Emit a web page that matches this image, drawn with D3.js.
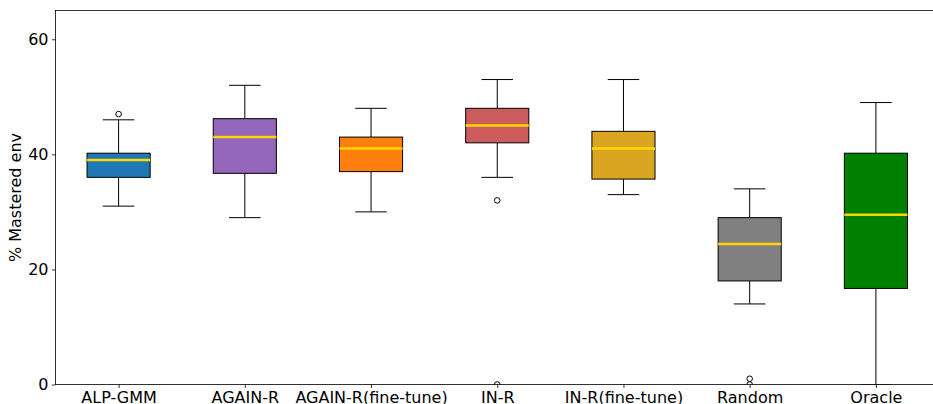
<!DOCTYPE html>
<html><head><meta charset="utf-8">
<script src="https://cdn.jsdelivr.net/npm/d3@7/dist/d3.min.js"></script>
<style>html,body{margin:0;padding:0;background:#fff;overflow:hidden;}svg{display:block;font-family:"DejaVu Sans",sans-serif;}</style>
</head><body><svg id="c" width="933" height="404"></svg>
<script>
const categories = ["ALP-GMM","AGAIN-R","AGAIN-R(fine-tune)","IN-R","IN-R(fine-tune)","Random","Oracle"];
const colors = ["#1f77b4","#9467bd","#ff7f0e","#cd5c5c","#daa520","#808080","#008000"];
const whiskerLow  = [31, 29, 30, 36, 33, 14, 0];
const q1          = [36, 36.7, 37, 42, 35.7, 18, 16.7];
const medians     = [39, 43, 41, 45, 41, 24.4, 29.5];
const q3          = [40.2, 46.2, 43, 48, 44, 29, 40.2];
const whiskerHigh = [46, 52, 48, 53, 53, 34, 49];
const outliers    = [[47], [], [], [32, 0], [], [1, 0], []];
const yTicks = [0, 20, 40, 60];

const svg = d3.select("#c");
const m = {l:55.5, r:939, t:10.5, b:384.5};
const x = d3.scaleLinear().domain([0.5, 7.5]).range([m.l, m.r]);
const y = d3.scaleLinear().domain([0, 65]).range([m.b, m.t]);
const boxW = x(1.25) - x(1);
const capW = x(1.125) - x(1);

svg.append("defs").append("clipPath").attr("id", "clip").append("rect")
  .attr("x", m.l).attr("y", m.t).attr("width", m.r - m.l).attr("height", m.b - m.t);

const g = svg.append("g").attr("clip-path", "url(#clip)");
categories.forEach((c, i) => {
  const cx = x(i + 1);
  const gg = g.append("g");
  gg.append("line").attr("x1", cx).attr("x2", cx).attr("y1", y(q3[i])).attr("y2", y(whiskerHigh[i])).attr("stroke", "#000").attr("stroke-width", 1);
  gg.append("line").attr("x1", cx).attr("x2", cx).attr("y1", y(q1[i])).attr("y2", y(whiskerLow[i])).attr("stroke", "#000").attr("stroke-width", 1);
  [whiskerHigh[i], whiskerLow[i]].forEach(v => {
    gg.append("line").attr("x1", cx - capW).attr("x2", cx + capW).attr("y1", y(v)).attr("y2", y(v)).attr("stroke", "#000").attr("stroke-width", 1);
  });
  gg.append("rect").attr("x", cx - boxW).attr("width", 2 * boxW)
    .attr("y", y(q3[i])).attr("height", y(q1[i]) - y(q3[i]))
    .attr("fill", colors[i]).attr("stroke", "#000").attr("stroke-width", 1);
  gg.append("line").attr("x1", cx - boxW).attr("x2", cx + boxW).attr("y1", y(medians[i])).attr("y2", y(medians[i])).attr("stroke", "#ffd700").attr("stroke-width", 2.5);
  outliers[i].forEach(v => {
    gg.append("circle").attr("cx", cx).attr("cy", y(v)).attr("r", 2.8).attr("fill", "none").attr("stroke", "#000").attr("stroke-width", 1);
  });
});

const xAxis = d3.axisBottom(x).tickValues(d3.range(1, 8)).tickFormat(d => categories[d - 1]).tickSize(3.5).tickPadding(3.5);
const gx = svg.append("g").attr("transform", `translate(0,${m.b})`).call(xAxis);
gx.select(".domain").remove();
gx.selectAll("text").attr("font-size", 16).attr("fill", "#000").attr("font-family", "DejaVu Sans");
gx.selectAll("line").attr("stroke", "#000").attr("stroke-width", 0.8);

const yAxis = d3.axisLeft(y).tickValues(yTicks).tickSize(3.5).tickPadding(3.5);
const gy = svg.append("g").attr("transform", `translate(${m.l},0)`).call(yAxis);
gy.select(".domain").remove();
gy.selectAll("text").attr("font-size", 16).attr("fill", "#000").attr("font-family", "DejaVu Sans");
gy.selectAll("line").attr("stroke", "#000").attr("stroke-width", 0.8);

svg.append("rect").attr("x", m.l).attr("y", m.t).attr("width", m.r - m.l).attr("height", m.b - m.t)
  .attr("fill", "none").attr("stroke", "#000").attr("stroke-width", 0.8);

svg.append("text").attr("transform", `translate(21,${(m.t + m.b) / 2}) rotate(-90)`)
  .attr("text-anchor", "middle").attr("font-size", 16).attr("fill", "#000").text("% Mastered env");
</script></body></html>
